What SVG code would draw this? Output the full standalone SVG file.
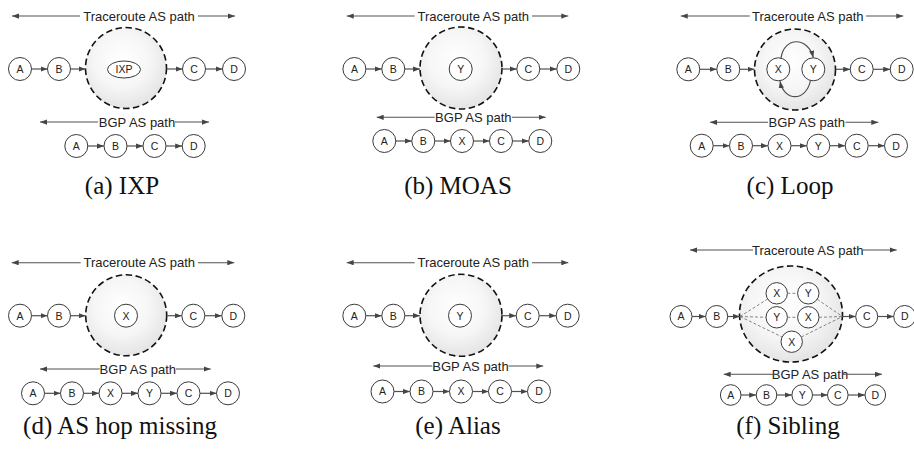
<svg xmlns="http://www.w3.org/2000/svg" width="914" height="452" viewBox="0 0 914 452">
<style>
.n circle{fill:#fff;stroke:#3a3a3a;stroke-width:1}
.n ellipse{fill:#fff;stroke:#3a3a3a;stroke-width:1}
.n text{font-family:"Liberation Sans",Arial,sans-serif;font-size:10.5px;fill:#222;text-anchor:middle}
.big{fill:url(#g);stroke:#111;stroke-width:1.6;stroke-dasharray:6.5 3.5}
.e{stroke:#505050;stroke-width:1.2;fill:none}
.h{stroke:#505050;stroke-width:1.1;fill:none}
.d{stroke:#6a6a6a;stroke-width:0.8;stroke-dasharray:3 2;fill:none}
.lbl{font-family:"Liberation Sans",Arial,sans-serif;font-size:13px;fill:#222;text-anchor:middle}
.cap{font-family:"Liberation Serif","Times New Roman",serif;font-size:25px;fill:#111;text-anchor:middle}
</style>
<defs>
<radialGradient id="g" cx="0.45" cy="0.4" r="0.62">
<stop offset="0" stop-color="#ffffff"/>
<stop offset="0.55" stop-color="#f6f6f6"/>
<stop offset="1" stop-color="#e3e3e3"/>
</radialGradient>
<marker id="ah" viewBox="0 0 8 6" refX="8" refY="3" markerWidth="7" markerHeight="5.5" markerUnits="userSpaceOnUse" orient="auto-start-reverse">
<path d="M0,0 L8,3 L0,6 z" fill="#454545"/>
</marker>
</defs>

<!-- ===== Panel a ===== -->
<g id="a-cloud"><circle class="big" cx="126" cy="68" r="40.5"/></g>
<g id="a-A" class="n"><circle cx="20" cy="69" r="11.5"/><text x="20" y="72.8">A</text></g>
<g id="a-B" class="n"><circle cx="59" cy="69" r="11.5"/><text x="59" y="72.8">B</text></g>
<g id="a-IXP" class="n"><ellipse cx="124" cy="69.5" rx="16.5" ry="8.5"/><text x="124" y="73.3">IXP</text></g>
<g id="a-C" class="n"><circle cx="194" cy="69" r="11.5"/><text x="194" y="72.8">C</text></g>
<g id="a-D" class="n"><circle cx="234" cy="69" r="11.5"/><text x="234" y="72.8">D</text></g>
<g id="a-bA" class="n"><circle cx="76.3" cy="146" r="11.5"/><text x="76.3" y="149.8">A</text></g>
<g id="a-bB" class="n"><circle cx="115.5" cy="146" r="11.5"/><text x="115.5" y="149.8">B</text></g>
<g id="a-bC" class="n"><circle cx="154.5" cy="146" r="11.5"/><text x="154.5" y="149.8">C</text></g>
<g id="a-bD" class="n"><circle cx="193.7" cy="146" r="11.5"/><text x="193.7" y="149.8">D</text></g>
<text class="lbl" x="139" y="20.5">Traceroute AS path</text>
<text class="lbl" x="137" y="126.5">BGP AS path</text>
<text class="cap" x="122" y="194">(a) IXP</text>

<!-- ===== Panel b ===== -->
<g id="b-cloud"><circle class="big" cx="461" cy="68" r="41"/></g>
<g id="b-A" class="n"><circle cx="354.4" cy="69" r="11.5"/><text x="354.4" y="72.8">A</text></g>
<g id="b-B" class="n"><circle cx="393.3" cy="69" r="11.5"/><text x="393.3" y="72.8">B</text></g>
<g id="b-Y" class="n"><circle cx="460.7" cy="69" r="11.5"/><text x="460.7" y="72.8">Y</text></g>
<g id="b-C" class="n"><circle cx="528.3" cy="69" r="11.5"/><text x="528.3" y="72.8">C</text></g>
<g id="b-D" class="n"><circle cx="568.3" cy="69" r="11.5"/><text x="568.3" y="72.8">D</text></g>
<g id="b-bA" class="n"><circle cx="384.3" cy="141" r="11.5"/><text x="384.3" y="144.8">A</text></g>
<g id="b-bB" class="n"><circle cx="423.3" cy="141" r="11.5"/><text x="423.3" y="144.8">B</text></g>
<g id="b-bX" class="n"><circle cx="462" cy="141" r="11.5"/><text x="462" y="144.8">X</text></g>
<g id="b-bC" class="n"><circle cx="501" cy="141" r="11.5"/><text x="501" y="144.8">C</text></g>
<g id="b-bD" class="n"><circle cx="540.3" cy="141" r="11.5"/><text x="540.3" y="144.8">D</text></g>
<text class="lbl" x="473.3" y="20.5">Traceroute AS path</text>
<text class="lbl" x="473.3" y="121.8">BGP AS path</text>
<text class="cap" x="458" y="194">(b) MOAS</text>

<!-- ===== Panel c ===== -->
<g id="c-cloud"><circle class="big" cx="795" cy="69.5" r="40.5"/></g>
<g id="c-A" class="n"><circle cx="688.3" cy="69.3" r="11.5"/><text x="688.3" y="73.1">A</text></g>
<g id="c-B" class="n"><circle cx="728.3" cy="69.3" r="11.5"/><text x="728.3" y="73.1">B</text></g>
<g id="c-X" class="n"><circle cx="778.3" cy="69.3" r="11.5"/><text x="778.3" y="73.1">X</text></g>
<g id="c-Y" class="n"><circle cx="813.3" cy="69.3" r="11.5"/><text x="813.3" y="73.1">Y</text></g>
<g id="c-C" class="n"><circle cx="861.7" cy="69.3" r="11.5"/><text x="861.7" y="73.1">C</text></g>
<g id="c-D" class="n"><circle cx="901.7" cy="69.3" r="11.5"/><text x="901.7" y="73.1">D</text></g>
<g id="c-bA" class="n"><circle cx="701.7" cy="145.7" r="11.5"/><text x="701.7" y="149.5">A</text></g>
<g id="c-bB" class="n"><circle cx="741" cy="145.7" r="11.5"/><text x="741" y="149.5">B</text></g>
<g id="c-bX" class="n"><circle cx="779.5" cy="145.7" r="11.5"/><text x="779.5" y="149.5">X</text></g>
<g id="c-bY" class="n"><circle cx="818.3" cy="145.7" r="11.5"/><text x="818.3" y="149.5">Y</text></g>
<g id="c-bC" class="n"><circle cx="856.7" cy="145.7" r="11.5"/><text x="856.7" y="149.5">C</text></g>
<g id="c-bD" class="n"><circle cx="896" cy="145.7" r="11.5"/><text x="896" y="149.5">D</text></g>
<text class="lbl" x="807.8" y="20.5">Traceroute AS path</text>
<text class="lbl" x="806.7" y="126.8">BGP AS path</text>
<text class="cap" x="790" y="194">(c) Loop</text>

<!-- ===== Panel d ===== -->
<g id="d-cloud"><circle class="big" cx="126.2" cy="315.3" r="40.5"/></g>
<g id="d-A" class="n"><circle cx="20" cy="315.7" r="11.5"/><text x="20" y="319.5">A</text></g>
<g id="d-B" class="n"><circle cx="59" cy="315.7" r="11.5"/><text x="59" y="319.5">B</text></g>
<g id="d-X" class="n"><circle cx="126" cy="315.7" r="11.5"/><text x="126" y="319.5">X</text></g>
<g id="d-C" class="n"><circle cx="193.3" cy="315.7" r="11.5"/><text x="193.3" y="319.5">C</text></g>
<g id="d-D" class="n"><circle cx="233.3" cy="315.7" r="11.5"/><text x="233.3" y="319.5">D</text></g>
<g id="d-bA" class="n"><circle cx="33" cy="393.3" r="11.5"/><text x="33" y="397.1">A</text></g>
<g id="d-bB" class="n"><circle cx="72" cy="393.3" r="11.5"/><text x="72" y="397.1">B</text></g>
<g id="d-bX" class="n"><circle cx="110.5" cy="393.3" r="11.5"/><text x="110.5" y="397.1">X</text></g>
<g id="d-bY" class="n"><circle cx="149.5" cy="393.3" r="11.5"/><text x="149.5" y="397.1">Y</text></g>
<g id="d-bC" class="n"><circle cx="188.5" cy="393.3" r="11.5"/><text x="188.5" y="397.1">C</text></g>
<g id="d-bD" class="n"><circle cx="228" cy="393.3" r="11.5"/><text x="228" y="397.1">D</text></g>
<text class="lbl" x="139.3" y="267.2">Traceroute AS path</text>
<text class="lbl" x="137.8" y="373.5">BGP AS path</text>
<text class="cap" x="120" y="434">(d) AS hop missing</text>

<!-- ===== Panel e ===== -->
<g id="e-cloud"><circle class="big" cx="461" cy="315.3" r="41"/></g>
<g id="e-A" class="n"><circle cx="354.3" cy="315.7" r="11.5"/><text x="354.3" y="319.5">A</text></g>
<g id="e-B" class="n"><circle cx="393.3" cy="315.7" r="11.5"/><text x="393.3" y="319.5">B</text></g>
<g id="e-Y" class="n"><circle cx="460" cy="315.7" r="11.5"/><text x="460" y="319.5">Y</text></g>
<g id="e-C" class="n"><circle cx="527.7" cy="315.7" r="11.5"/><text x="527.7" y="319.5">C</text></g>
<g id="e-D" class="n"><circle cx="567.7" cy="315.7" r="11.5"/><text x="567.7" y="319.5">D</text></g>
<g id="e-bA" class="n"><circle cx="382.5" cy="391.5" r="11.5"/><text x="382.5" y="395.3">A</text></g>
<g id="e-bB" class="n"><circle cx="421.5" cy="391.5" r="11.5"/><text x="421.5" y="395.3">B</text></g>
<g id="e-bX" class="n"><circle cx="461" cy="391.5" r="11.5"/><text x="461" y="395.3">X</text></g>
<g id="e-bC" class="n"><circle cx="500" cy="391.5" r="11.5"/><text x="500" y="395.3">C</text></g>
<g id="e-bD" class="n"><circle cx="539" cy="391.5" r="11.5"/><text x="539" y="395.3">D</text></g>
<text class="lbl" x="473.3" y="267.2">Traceroute AS path</text>
<text class="lbl" x="470.5" y="370.5">BGP AS path</text>
<text class="cap" x="458" y="434">(e) Alias</text>

<!-- ===== Panel f ===== -->
<g id="f-cloud"><ellipse class="big" cx="791" cy="314" rx="51.5" ry="48"/></g>
<g id="f-A" class="n"><circle cx="681" cy="316.5" r="11"/><text x="681" y="320.3">A</text></g>
<g id="f-B" class="n"><circle cx="716.7" cy="316.5" r="11"/><text x="716.7" y="320.3">B</text></g>
<g id="f-X1" class="n"><circle cx="776.7" cy="293.3" r="10.7"/><text x="776.7" y="297.1">X</text></g>
<g id="f-Y1" class="n"><circle cx="808.3" cy="293.3" r="10.7"/><text x="808.3" y="297.1">Y</text></g>
<g id="f-Y2" class="n"><circle cx="776.7" cy="317.3" r="10.7"/><text x="776.7" y="321.1">Y</text></g>
<g id="f-X2" class="n"><circle cx="808.3" cy="317.3" r="10.7"/><text x="808.3" y="321.1">X</text></g>
<g id="f-X3" class="n"><circle cx="791.7" cy="341.7" r="10.7"/><text x="791.7" y="345.5">X</text></g>
<g id="f-C" class="n"><circle cx="866.7" cy="316.5" r="11"/><text x="866.7" y="320.3">C</text></g>
<g id="f-D" class="n"><circle cx="904.7" cy="316.5" r="11"/><text x="904.7" y="320.3">D</text></g>
<g id="f-bA" class="n"><circle cx="730.7" cy="395" r="10.3"/><text x="730.7" y="398.8">A</text></g>
<g id="f-bB" class="n"><circle cx="766.5" cy="395" r="10.3"/><text x="766.5" y="398.8">B</text></g>
<g id="f-bY" class="n"><circle cx="802.2" cy="395" r="10.3"/><text x="802.2" y="398.8">Y</text></g>
<g id="f-bC" class="n"><circle cx="837.8" cy="395" r="10.3"/><text x="837.8" y="398.8">C</text></g>
<g id="f-bD" class="n"><circle cx="875.3" cy="395" r="10.3"/><text x="875.3" y="398.8">D</text></g>
<text class="lbl" x="807.8" y="254.5">Traceroute AS path</text>
<text class="lbl" x="810" y="378.8">BGP AS path</text>
<text class="cap" x="788" y="434">(f) Sibling</text>

<!-- ===== Connectors ===== -->
<g id="connectors">
<!-- a -->
<line class="h" x1="80" y1="16" x2="12" y2="16" marker-end="url(#ah)"/>
<line class="h" x1="198" y1="16" x2="235" y2="16" marker-end="url(#ah)"/>
<line class="e" x1="31.5" y1="69" x2="47.5" y2="69" marker-end="url(#ah)"/>
<line class="e" x1="70.5" y1="69" x2="85.5" y2="69" marker-end="url(#ah)"/>
<line class="e" x1="166.5" y1="69" x2="182.5" y2="69" marker-end="url(#ah)"/>
<line class="e" x1="205.5" y1="69" x2="222.5" y2="69" marker-end="url(#ah)"/>
<line class="h" x1="98" y1="122" x2="40" y2="122" marker-end="url(#ah)"/>
<line class="h" x1="175" y1="122" x2="209" y2="122" marker-end="url(#ah)"/>
<line class="e" x1="87.8" y1="146" x2="104" y2="146" marker-end="url(#ah)"/>
<line class="e" x1="127" y1="146" x2="143" y2="146" marker-end="url(#ah)"/>
<line class="e" x1="166" y1="146" x2="182.2" y2="146" marker-end="url(#ah)"/>
<!-- b -->
<line class="h" x1="414.7" y1="16" x2="346.7" y2="16" marker-end="url(#ah)"/>
<line class="h" x1="532" y1="16" x2="568.3" y2="16" marker-end="url(#ah)"/>
<line class="e" x1="365.9" y1="69" x2="381.8" y2="69" marker-end="url(#ah)"/>
<line class="e" x1="404.8" y1="69" x2="420" y2="69" marker-end="url(#ah)"/>
<line class="e" x1="502" y1="69" x2="516.8" y2="69" marker-end="url(#ah)"/>
<line class="e" x1="539.8" y1="69" x2="556.8" y2="69" marker-end="url(#ah)"/>
<line class="h" x1="434.7" y1="117.3" x2="376.7" y2="117.3" marker-end="url(#ah)"/>
<line class="h" x1="512" y1="117.3" x2="545.7" y2="117.3" marker-end="url(#ah)"/>
<line class="e" x1="395.8" y1="141" x2="411.8" y2="141" marker-end="url(#ah)"/>
<line class="e" x1="434.8" y1="141" x2="450.5" y2="141" marker-end="url(#ah)"/>
<line class="e" x1="473.5" y1="141" x2="489.5" y2="141" marker-end="url(#ah)"/>
<line class="e" x1="512.5" y1="141" x2="528.8" y2="141" marker-end="url(#ah)"/>
<!-- c -->
<line class="h" x1="749.7" y1="16" x2="680.7" y2="16" marker-end="url(#ah)"/>
<line class="h" x1="866" y1="16" x2="903.3" y2="16" marker-end="url(#ah)"/>
<line class="e" x1="699.8" y1="69.3" x2="716.8" y2="69.3" marker-end="url(#ah)"/>
<line class="e" x1="739.8" y1="69.3" x2="754.5" y2="69.3" marker-end="url(#ah)"/>
<line class="e" x1="835.5" y1="69.3" x2="850.2" y2="69.3" marker-end="url(#ah)"/>
<line class="e" x1="873.2" y1="69.3" x2="890.2" y2="69.3" marker-end="url(#ah)"/>
<path class="e" d="M781,58 C784,36.4 808,36.4 813.3,57.6" marker-end="url(#ah)"/>
<path class="e" d="M810.5,80.5 C806,102 784,102 780,81.2" marker-end="url(#ah)"/>
<line class="h" x1="768" y1="122.3" x2="710" y2="122.3" marker-end="url(#ah)"/>
<line class="h" x1="845.5" y1="122.3" x2="878.3" y2="122.3" marker-end="url(#ah)"/>
<line class="e" x1="713.2" y1="145.7" x2="729.5" y2="145.7" marker-end="url(#ah)"/>
<line class="e" x1="752.5" y1="145.7" x2="768" y2="145.7" marker-end="url(#ah)"/>
<line class="e" x1="791" y1="145.7" x2="806.8" y2="145.7" marker-end="url(#ah)"/>
<line class="e" x1="829.8" y1="145.7" x2="845.2" y2="145.7" marker-end="url(#ah)"/>
<line class="e" x1="868.2" y1="145.7" x2="884.5" y2="145.7" marker-end="url(#ah)"/>
<!-- d -->
<line class="h" x1="80.7" y1="262.7" x2="11.7" y2="262.7" marker-end="url(#ah)"/>
<line class="h" x1="198" y1="262.7" x2="234.3" y2="262.7" marker-end="url(#ah)"/>
<line class="e" x1="31.5" y1="315.7" x2="47.5" y2="315.7" marker-end="url(#ah)"/>
<line class="e" x1="70.5" y1="315.7" x2="85.7" y2="315.7" marker-end="url(#ah)"/>
<line class="e" x1="166.7" y1="315.7" x2="181.8" y2="315.7" marker-end="url(#ah)"/>
<line class="e" x1="204.8" y1="315.7" x2="221.8" y2="315.7" marker-end="url(#ah)"/>
<line class="h" x1="99.7" y1="369" x2="40" y2="369" marker-end="url(#ah)"/>
<line class="h" x1="176" y1="369" x2="210.7" y2="369" marker-end="url(#ah)"/>
<line class="e" x1="44.5" y1="393.3" x2="60.5" y2="393.3" marker-end="url(#ah)"/>
<line class="e" x1="83.5" y1="393.3" x2="99" y2="393.3" marker-end="url(#ah)"/>
<line class="e" x1="122" y1="393.3" x2="138" y2="393.3" marker-end="url(#ah)"/>
<line class="e" x1="161" y1="393.3" x2="177" y2="393.3" marker-end="url(#ah)"/>
<line class="e" x1="200" y1="393.3" x2="216.5" y2="393.3" marker-end="url(#ah)"/>
<!-- e -->
<line class="h" x1="414.7" y1="262.7" x2="346.7" y2="262.7" marker-end="url(#ah)"/>
<line class="h" x1="532" y1="262.7" x2="568.3" y2="262.7" marker-end="url(#ah)"/>
<line class="e" x1="365.8" y1="315.7" x2="381.8" y2="315.7" marker-end="url(#ah)"/>
<line class="e" x1="404.8" y1="315.7" x2="420" y2="315.7" marker-end="url(#ah)"/>
<line class="e" x1="502" y1="315.7" x2="516.2" y2="315.7" marker-end="url(#ah)"/>
<line class="e" x1="539.2" y1="315.7" x2="556.2" y2="315.7" marker-end="url(#ah)"/>
<line class="h" x1="432.3" y1="366" x2="373.3" y2="366" marker-end="url(#ah)"/>
<line class="h" x1="508.7" y1="366" x2="543.3" y2="366" marker-end="url(#ah)"/>
<line class="e" x1="394" y1="391.5" x2="410" y2="391.5" marker-end="url(#ah)"/>
<line class="e" x1="433" y1="391.5" x2="449.5" y2="391.5" marker-end="url(#ah)"/>
<line class="e" x1="472.5" y1="391.5" x2="488.5" y2="391.5" marker-end="url(#ah)"/>
<line class="e" x1="511.5" y1="391.5" x2="527.5" y2="391.5" marker-end="url(#ah)"/>
<!-- f -->
<line class="h" x1="753" y1="250" x2="690" y2="250" marker-end="url(#ah)"/>
<line class="h" x1="862.7" y1="250" x2="896.7" y2="250" marker-end="url(#ah)"/>
<line class="e" x1="692" y1="316.5" x2="705.7" y2="316.5" marker-end="url(#ah)"/>
<line class="e" x1="727.7" y1="316.5" x2="740" y2="316.5" marker-end="url(#ah)"/>
<line class="e" x1="842.5" y1="316.5" x2="855.7" y2="316.5" marker-end="url(#ah)"/>
<line class="e" x1="877.7" y1="316.5" x2="893.7" y2="316.5" marker-end="url(#ah)"/>
<line class="d" x1="740" y1="316.5" x2="767.7" y2="299"/>
<line class="d" x1="740" y1="316.5" x2="766" y2="317.3"/>
<line class="d" x1="740" y1="316.5" x2="782.1" y2="337"/>
<line class="d" x1="787.4" y1="293.3" x2="797.6" y2="293.3"/>
<line class="d" x1="787.4" y1="317.3" x2="797.6" y2="317.3"/>
<line class="d" x1="817.2" y1="299.3" x2="842.5" y2="316.5"/>
<line class="d" x1="819" y1="317.3" x2="842.5" y2="316.5"/>
<line class="d" x1="801.3" y1="337" x2="842.5" y2="316.5"/>
<line class="h" x1="778" y1="374.3" x2="723.7" y2="374.3" marker-end="url(#ah)"/>
<line class="h" x1="842" y1="374.3" x2="882" y2="374.3" marker-end="url(#ah)"/>
<line class="e" x1="741" y1="395" x2="756.2" y2="395" marker-end="url(#ah)"/>
<line class="e" x1="776.8" y1="395" x2="791.9" y2="395" marker-end="url(#ah)"/>
<line class="e" x1="812.5" y1="395" x2="827.5" y2="395" marker-end="url(#ah)"/>
<line class="e" x1="848.1" y1="395" x2="865" y2="395" marker-end="url(#ah)"/>
</g>
</svg>
